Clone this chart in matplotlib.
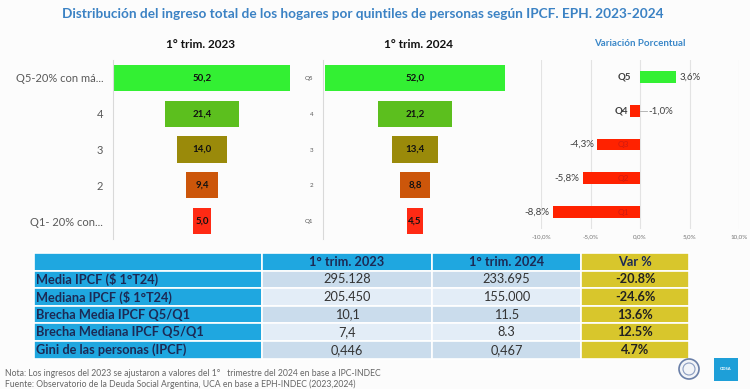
import matplotlib
matplotlib.use('Agg')
import matplotlib.pyplot as plt
from matplotlib.patches import Rectangle, Circle

plt.rcParams['font.family'] = ['Lato', 'DejaVu Sans']

# datos
quintiles = ['Q5', 'Q4', 'Q3', 'Q2', 'Q1']
labels_2023 = ['Q5-20% con má...', '4', '3', '2', 'Q1- 20% con...']
labels_2024 = ['Q5', '4', '3', '2', 'Q1']
ingreso_2023 = [50.2, 21.4, 14.0, 9.4, 5.0]
ingreso_2024 = [52.0, 21.2, 13.4, 8.8, 4.5]
variacion = [3.6, -1.0, -4.3, -5.8, -8.8]
bar_colors = ['#33f033', '#5cbf1e', '#9a8a0a', '#cc560a', '#ff2a14']

table_header = ['', '1° trim. 2023', '1° trim. 2024', 'Var %']
table_rows = ['Media IPCF ($ 1°T24)', 'Mediana IPCF ($ 1°T24)', 'Brecha Media IPCF Q5/Q1',
              'Brecha Mediana IPCF Q5/Q1', 'Gini de las personas (IPCF)']
col_2023 = ['295.128', '205.450', '10,1', '7,4', '0,446']
col_2024 = ['233.695', '155.000', '11.5', '8.3', '0,467']
col_var = ['-20.8%', '-24.6%', '13.6%', '12.5%', '4.7%']

W, H = 750, 389
fig = plt.figure(figsize=(7.5, 3.89), dpi=100)
fig.patch.set_facecolor('#fcfcfc')


def px_axes(x0, y0, x1, y1):
    return fig.add_axes([x0 / W, 1 - y1 / H, (x1 - x0) / W, (y1 - y0) / H])


def fmt(v):
    return f'{v:.1f}'.replace('.', ',')


def funnel(ax, values, labels, half, tick_size):
    pos = range(len(values))
    ax.barh(pos, values, left=[-v / 2 for v in values], height=0.73, color=bar_colors)
    for i, v in enumerate(values):
        ax.text(0, i, fmt(v), ha='center', va='center', fontsize=7, fontweight='bold', color='#111111')
    ax.set_xlim(-half, half)
    ax.set_ylim(4.5, -0.5)
    ax.set_yticks(list(pos))
    ax.set_yticklabels(labels, fontsize=tick_size, color='#595959')
    ax.tick_params(axis='y', length=0, pad=7)
    ax.set_xticks([])
    for s in ['top', 'right', 'bottom']:
        ax.spines[s].set_visible(False)
    ax.spines['left'].set_color('#d9d9d9')
    ax.set_facecolor('none')


ax1 = px_axes(113, 60, 291, 239)
funnel(ax1, ingreso_2023, labels_2023, 25.4, 8)
ax2 = px_axes(323, 60, 507, 239)
funnel(ax2, ingreso_2024, labels_2024, 26.6, 4.5)

# variacion porcentual
ax3 = px_axes(541, 60, 739, 229)
colors_var = ['#33f033' if v > 0 else '#ff2200' for v in variacion]
ax3.barh(range(len(variacion)), variacion, height=0.35, color=colors_var, zorder=3)
ax3.set_xlim(-10, 10)
ax3.set_ylim(4.5, -0.5)
ax3.set_xticks([-10, -5, 0, 5, 10])
ax3.set_xticklabels([fmt(t) + '%' for t in [-10, -5, 0, 5, 10]], fontsize=4.5, color='#777777')
ax3.tick_params(length=0, pad=4)
ax3.set_yticks([])
ax3.grid(axis='x', color='#e3e3e3', lw=0.8, zorder=0)
for s in ax3.spines.values():
    s.set_visible(False)
ax3.set_facecolor('none')
for i, (q, v) in enumerate(zip(quintiles, variacion)):
    lab = fmt(v) + '%'
    if v > 0:
        ax3.text(-0.9, i, q, ha='right', va='center', fontsize=7, fontweight='bold', color='#404040')
        ax3.text(v + 0.4, i, lab, ha='left', va='center', fontsize=7, color='#404040')
    elif v > -2:
        ax3.text(v - 0.2, i, q, ha='right', va='center', fontsize=7, fontweight='bold', color='#404040')
        ax3.plot([0, 0.7], [i, i], color='#aaaaaa', lw=0.6)
        ax3.text(0.8, i, lab, ha='left', va='center', fontsize=7, color='#404040')
    else:
        ax3.text(-1.7, i, q, ha='center', va='center', fontsize=6, color='#d01a10', zorder=4)
        ax3.text(v - 0.35, i, lab, ha='right', va='center', fontsize=7, color='#404040')

# capa de textos y tabla
ov = fig.add_axes([0, 0, 1, 1])
ov.set_xlim(0, W)
ov.set_ylim(H, 0)
ov.axis('off')
ov.set_zorder(-1)

ov.text(363, 14, 'Distribución del ingreso total de los hogares por quintiles de personas según IPCF. EPH. 2023-2024',
        ha='center', va='center', fontsize=9.8, fontweight='bold', color='#3b82c4')
ov.text(200, 44, '1° trim. 2023', ha='center', va='center', fontsize=8.5, fontweight='bold', color='#111111')
ov.text(418, 44, '1° trim. 2024', ha='center', va='center', fontsize=8.5, fontweight='bold', color='#111111')
ov.text(640, 43, 'Variación Porcentual', ha='center', va='center', fontsize=7, fontweight='bold', color='#3a87c8')

col_x = [34, 262, 432, 581, 689]
row_top = 253
row_h = 17.6
blue = '#1fa7e0'
yellow = '#d8c62c'
light = ['#cadcec', '#e3edf7']
navy = '#1c2a55'
tsize = 9.2

for r in range(len(table_rows) + 1):
    y0 = row_top + r * row_h
    for c in range(4):
        if c == 3:
            fc = yellow
        elif r == 0 or c == 0:
            fc = blue
        else:
            fc = light[(r - 1) % 2]
        ov.add_patch(Rectangle((col_x[c], y0), col_x[c + 1] - col_x[c], row_h,
                               facecolor=fc, edgecolor='white', lw=1.2))
    yc = y0 + row_h / 2
    if r == 0:
        for c in range(1, 4):
            ov.text((col_x[c] + col_x[c + 1]) / 2, yc, table_header[c], ha='center', va='center',
                    fontsize=tsize, fontweight='bold', color=navy)
    else:
        i = r - 1
        ov.text(col_x[0] + 2, yc, table_rows[i], ha='left', va='center', fontsize=tsize,
                fontweight='bold', color=navy)
        ov.text((col_x[1] + col_x[2]) / 2, yc, col_2023[i], ha='center', va='center', fontsize=tsize, color='#333333')
        ov.text((col_x[2] + col_x[3]) / 2, yc, col_2024[i], ha='center', va='center', fontsize=tsize, color='#333333')
        ov.text((col_x[3] + col_x[4]) / 2, yc, col_var[i], ha='center', va='center', fontsize=tsize,
                fontweight='bold', color='#222222')

ov.text(5, 373, 'Nota: Los ingresos del 2023 se ajustaron a valores del 1°   trimestre del 2024 en base a IPC-INDEC',
        ha='left', va='center', fontsize=6.2, color='#666666')
ov.text(5, 384, 'Fuente: Observatorio de la Deuda Social Argentina, UCA en base a EPH-INDEC (2023,2024)',
        ha='left', va='center', fontsize=6.2, color='#666666')

# logos
ov.add_patch(Circle((689, 369), 10, facecolor='#f2f4f8', edgecolor='#6a7fa8', lw=1.2))
ov.add_patch(Circle((689, 369), 6, facecolor='none', edgecolor='#8a9cc0', lw=0.8))
ov.add_patch(Rectangle((714, 358), 24, 23, facecolor='#1e9fd8', edgecolor='none'))
ov.text(726, 369.5, 'ODSA', ha='center', va='center', fontsize=3, fontweight='bold', color='white')

fig.savefig('out.png', dpi=100, facecolor=fig.get_facecolor())
